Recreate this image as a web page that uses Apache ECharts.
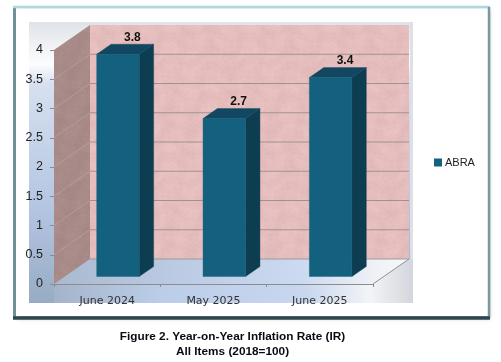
<!DOCTYPE html>
<html>
<head>
<meta charset="utf-8">
<style>
  html, body { margin: 0; padding: 0; background: #fff; }
  #chart { width: 501px; height: 362px; }
</style>
<script src="https://cdn.jsdelivr.net/npm/echarts@6/dist/echarts.min.js"></script>
</head>
<body>
<div id="chart"></div>
<script>
const categories = ["June 2024", "May 2025", "June 2025"];
const seriesName = "ABRA";
const values = [3.8, 2.7, 3.4];
const yTicks = [0, 0.5, 1, 1.5, 2, 2.5, 3, 3.5, 4];
const captionLines = ["Figure 2. Year-on-Year Inflation Rate (IR)", "All Items (2018=100)"];

// how far the back wall sits behind the axis plane
const depthX = 36;
const depthY = -25;

// mottled stone fill for the walls
function stone(r, g, b, amp) {
  const c = document.createElement("canvas");
  c.width = 160;
  c.height = 120;
  const ctx = c.getContext("2d");
  const img = ctx.createImageData(160, 120);
  for (let y = 0; y < 120; y += 1) {
    for (let x = 0; x < 160; x += 1) {
      const n = 0.7 * Math.sin(x * 0.0785 + Math.sin(y * 0.105) * 2.5) * Math.cos(y * 0.157 + Math.sin(x * 0.157) * 2)
        + 0.5 * Math.sin(x * 0.471 + Math.cos(y * 0.314) * 3) * Math.sin(y * 0.524 + Math.cos(x * 0.236) * 3)
        + 0.4 * Math.sin(x * 1.9 + y * 2.7) * Math.cos(x * 2.3 - y * 1.3);
      const i = (y * 160 + x) * 4;
      img.data[i] = r + n * amp;
      img.data[i + 1] = g + n * amp;
      img.data[i + 2] = b + n * amp;
      img.data[i + 3] = 255;
    }
  }
  ctx.putImageData(img, 0, 0);
  return { image: c, repeat: "repeat" };
}

const backFill = stone(230, 189, 189, 5);
const sideFill = stone(168, 139, 137, 4);

function poly(points, style) {
  return { type: "polygon", shape: { points }, style };
}

function solid(points, color) {
  return poly(points, { fill: color, stroke: color, lineWidth: 0.4 });
}

function renderWalls(params, api) {
  const g = params.coordSys;
  const x0 = g.x;
  const x1 = g.x + g.width;
  const yBase = g.y + g.height;
  const yTop = g.y;
  const children = [
    poly([[x0, yBase], [x0 + depthX, yBase + depthY], [x1 + depthX, yBase + depthY], [x1, yBase]], {
      fill: new echarts.graphic.LinearGradient(0, 0, 1, 0, [
        { offset: 0, color: "#a9b9cf" },
        { offset: 0.35, color: "#bccbe4" },
        { offset: 0.7, color: "#cbdaf0" },
        { offset: 0.9, color: "#eef1f6" },
        { offset: 1, color: "#f6f7f9" }
      ])
    }),
    poly([[x0, yBase], [x0, yTop], [x0 + depthX, yTop + depthY], [x0 + depthX, yBase + depthY]], { fill: sideFill }),
    poly([[x0 + depthX, yTop + depthY], [x1 + depthX, yTop + depthY], [x1 + depthX, yBase + depthY], [x0 + depthX, yBase + depthY]], { fill: backFill })
  ];
  yTicks.forEach((t) => {
    const y = api.coord([0, t])[1];
    if (t > 0 && t < 4) {
      children.push({
        type: "line",
        shape: { x1: x0, y1: y, x2: x0 + depthX, y2: y + depthY },
        style: { stroke: "rgba(190,170,168,0.55)", lineWidth: 1 }
      });
      children.push({
        type: "line",
        shape: { x1: x0 + depthX, y1: y + depthY, x2: x1 + depthX, y2: y + depthY },
        style: { stroke: "#9c9494", lineWidth: 1 }
      });
    }
  });
  children.push({
    type: "line",
    shape: { x1: x1, y1: yBase, x2: x1 + depthX, y2: yBase + depthY },
    style: { stroke: "#8f8f8f", lineWidth: 1 }
  });
  children.push({
    type: "line",
    shape: { x1: x0 + depthX, y1: yBase + depthY, x2: x1 + depthX, y2: yBase + depthY },
    style: { stroke: "#9a9a9a", lineWidth: 1 }
  });
  return { type: "group", children };
}

function renderBar(params, api) {
  const top = api.coord([api.value(0), api.value(1)]);
  const base = api.coord([api.value(0), 0]);
  const band = api.size([1, 0])[0];
  const w = band * 0.4;
  // front face sits 0.3 of the way into the depth, bar is 0.4 deep
  const ox = depthX * 0.3;
  const oy = depthY * 0.3;
  const dx = depthX * 0.4;
  const dy = depthY * 0.4;
  const l = top[0] - w / 2 + ox;
  const r = l + w;
  const t = top[1] + oy;
  const b = base[1] + oy;
  return {
    type: "group",
    children: [
      solid([[r, t], [r + dx, t + dy], [r + dx, b + dy], [r, b]], "#0d3d51"),
      solid([[l, t], [l + dx, t + dy], [r + dx, t + dy], [r, t]], "#114760"),
      solid([[l, t], [r, t], [r, b], [l, b]], "#14607f"),
      {
        type: "text",
        style: {
          text: String(api.value(1)),
          x: l + w / 2 + dx,
          y: t + dy - 7,
          align: "center",
          verticalAlign: "middle",
          fill: "#111",
          font: "bold 12px 'Liberation Sans', Arial, sans-serif"
        }
      }
    ]
  };
}

const chart = echarts.init(document.getElementById("chart"), null, { renderer: "canvas" });

chart.setOption({
  animation: false,
  backgroundColor: "#fff",
  graphic: [
    { type: "rect", z: -20, shape: { x: 16, y: 9, width: 472, height: 307 },
      style: { fill: "#fff", shadowBlur: 4, shadowColor: "rgba(40,50,60,0.55)", shadowOffsetX: 1, shadowOffsetY: 2 } },
    { type: "line", z: -19, shape: { x1: 14.5, y1: 7, x2: 14.5, y2: 318 }, style: { stroke: "#6f8f99", lineWidth: 3 } },
    { type: "line", z: -19, shape: { x1: 13, y1: 7, x2: 490, y2: 7 }, style: { stroke: "#b0d6df", lineWidth: 2.5 } },
    { type: "line", z: -19, shape: { x1: 489, y1: 7, x2: 489, y2: 318 }, style: { stroke: "#7d979f", lineWidth: 2.5 } },
    { type: "line", z: -18, shape: { x1: 13, y1: 318, x2: 490, y2: 318 }, style: { stroke: "#2f4650", lineWidth: 3.5 } },
    { type: "rect", z: -15, shape: { x: 29, y: 22, width: 384, height: 281 },
      style: {
        fill: new echarts.graphic.LinearGradient(0, 0, 0, 1, [
          { offset: 0, color: "#dfe3e8" },
          { offset: 0.15, color: "#fdfdfe" },
          { offset: 0.22, color: "#d6e0ef" },
          { offset: 0.65, color: "#b5c6e3" },
          { offset: 1, color: "#97abc2" }
        ])
      } },
    { type: "rect", z: -14, shape: { x: 54, y: 259, width: 359, height: 44 },
      style: {
        fill: new echarts.graphic.LinearGradient(0, 0, 1, 0, [
          { offset: 0, color: "#a3b4ca" },
          { offset: 0.3, color: "#bccde9" },
          { offset: 0.7, color: "#c8d7ef" },
          { offset: 0.88, color: "#f2f4f7" },
          { offset: 1, color: "#d3d6dc" }
        ])
      } },
    { type: "rect", z: -14, shape: { x: 410, y: 22, width: 3, height: 237 }, style: { fill: "#dde0e6" } },
    { type: "text", z: 5, style: { text: captionLines[0], x: 232.5, y: 337, align: "center", verticalAlign: "middle",
        fill: "#0a0a14", font: "bold 11.8px 'Liberation Sans', Arial, sans-serif" } },
    { type: "text", z: 5, style: { text: captionLines[1], x: 232.5, y: 351.5, align: "center", verticalAlign: "middle",
        fill: "#0a0a14", font: "bold 11.8px 'Liberation Sans', Arial, sans-serif" } }
  ],
  grid: { left: 54, top: 50, width: 319, height: 234, containLabel: false },
  legend: {
    left: 429,
    top: 152,
    data: [{ name: seriesName, icon: "rect" }],
    itemWidth: 8,
    itemHeight: 8,
    itemGap: 4,
    textStyle: { fontFamily: "'Liberation Sans', Arial, sans-serif", fontSize: 11, color: "#222", padding: [0, 0, 0, -2] }
  },
  xAxis: {
    type: "category",
    data: categories,
    axisLine: { lineStyle: { color: "#8c8c8c", width: 1 } },
    axisTick: { show: true, length: 3, inside: false, lineStyle: { color: "#8c8c8c" } },
    axisLabel: { color: "#333", fontSize: 11, margin: 12, fontFamily: "'DejaVu Sans', sans-serif" }
  },
  yAxis: {
    type: "value",
    min: 0,
    max: 4,
    interval: 0.5,
    splitLine: { show: false },
    axisLine: { show: false },
    axisTick: { show: true, length: 4, lineStyle: { color: "#8c8c8c" } },
    axisLabel: { color: "#222", fontSize: 12.5, margin: 11, fontFamily: "'Liberation Sans', Arial, sans-serif", lineHeight: 17, padding: [5, 0, 0, 0] }
  },
  series: [
    {
      name: "walls",
      type: "custom",
      coordinateSystem: "cartesian2d",
      silent: true,
      z: 1,
      renderItem: renderWalls,
      data: [[0, 0]],
      encode: { x: 0, y: 1 }
    },
    {
      name: seriesName,
      type: "custom",
      coordinateSystem: "cartesian2d",
      z: 3,
      itemStyle: { color: "#14607f" },
      renderItem: renderBar,
      data: values.map((v, i) => [i, v]),
      encode: { x: 0, y: 1 }
    }
  ]
});
</script>
</body>
</html>
